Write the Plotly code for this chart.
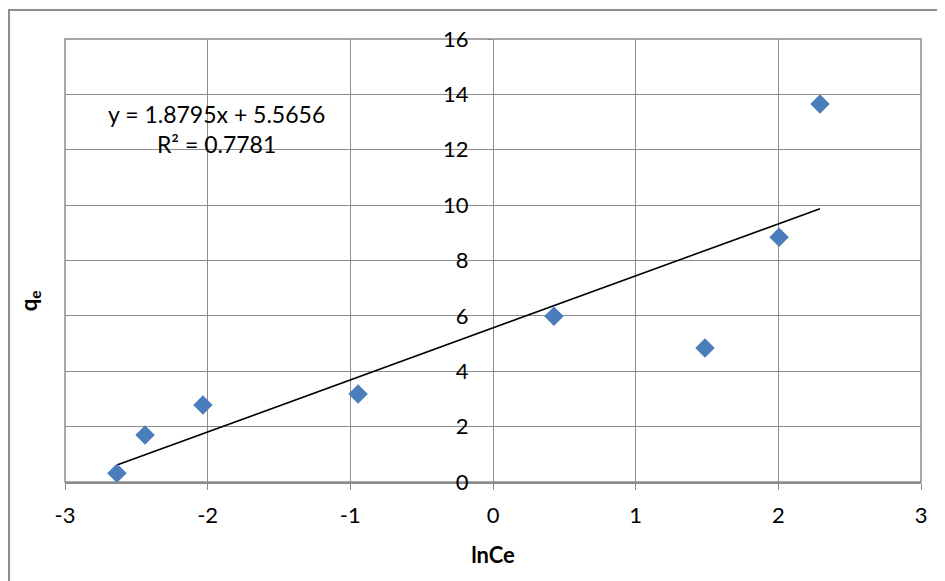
import numpy as np
import plotly.graph_objects as go

# Data
lnCe = [-2.636, -2.439, -2.033, -0.946, 0.427, 1.486, 2.005, 2.292]
qe = [0.32, 1.70, 2.78, 3.18, 5.99, 4.84, 8.84, 13.65]

# Linear trendline (as shown on chart)
slope = 1.8795
intercept = 5.5656
r2 = 0.7781

x_ticks = [-3, -2, -1, 0, 1, 2, 3]
x_labels = ['-3', '-2', '-1', '0', '1', '2', '3']
y_ticks = [0, 2, 4, 6, 8, 10, 12, 14, 16]

font = "Lato, Carlito, Calibri, sans-serif"
grid = "#8c8c8c"
fsize = 22

fig = go.Figure()

# trendline over the data range
tx = np.array([min(lnCe), max(lnCe)])
fig.add_trace(go.Scatter(x=tx, y=slope*tx + intercept, mode='lines',
                         line=dict(color='black', width=1.6),
                         showlegend=False, hoverinfo='skip'))

fig.add_trace(go.Scatter(x=lnCe, y=qe, mode='markers',
                         marker=dict(symbol='diamond', size=15, color='#4a7ebb'),
                         showlegend=False))

fig.update_xaxes(range=[-3, 3], tickvals=x_ticks, ticktext=x_labels,
                 showgrid=True, gridcolor=grid,
                 gridwidth=1, zeroline=False, showline=True, linecolor=grid,
                 linewidth=1.5, ticks='outside', ticklen=6, tickcolor=grid,
                 ticklabelstandoff=7,
                 tickfont=dict(family=font, size=fsize, color='black'),
                 title=dict(text='<b>lnCe</b>', font=dict(family=font, size=fsize, color='black'),
                            standoff=20))
fig.update_yaxes(range=[0, 16], tickvals=y_ticks, showgrid=True, gridcolor=grid,
                 gridwidth=1, zeroline=False, showline=False,
                 anchor='free', position=0.4988, ticks='outside', ticklen=5,
                 tickcolor=grid, ticklabelstandoff=14,
                 tickfont=dict(family=font, size=fsize, color='black'))

# y-axis title on the left
fig.add_annotation(text='<b>q<sub>e</sub></b>', xref='paper', yref='paper',
                   x=-0.041, y=0.41, xanchor='center', yanchor='middle',
                   textangle=-90, showarrow=False,
                   font=dict(family=font, size=fsize, color='black'))

fig.add_annotation(text=f'y = {slope}x + {intercept}<br>R² = {r2}',
                   xref='x', yref='y', x=-1.94, y=12.74, showarrow=False,
                   align='center', font=dict(family=font, size=fsize + 1, color='black'))

# outer chart frame
fig.add_shape(type='rect', xref='paper', yref='paper', x0=-0.0654, y0=-0.3,
              x1=1.2, y1=1.0655, line=dict(color='#8c8c8c', width=2))

# plot area border
fig.add_shape(type='rect', xref='paper', yref='paper', x0=0, y0=0, x1=1, y1=1,
              line=dict(color=grid, width=1.5), layer='below')

fig.update_layout(width=945, height=581, plot_bgcolor='white', paper_bgcolor='white',
                  margin=dict(l=57, r=32, t=31, b=107))

fig.write_html("out.html")
